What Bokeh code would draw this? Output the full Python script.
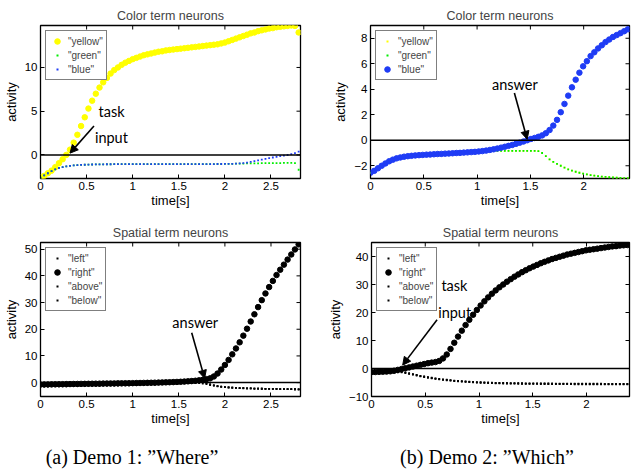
import numpy as np
from bokeh.plotting import figure
from bokeh.models import (Span, Label, Arrow, NormalHead, FixedTicker, Range1d, Div)
from bokeh.layouts import column, row
from bokeh.embed import file_html
from bokeh.resources import INLINE

# ---------------- data ----------------
t_a = np.round(np.arange(71) * 0.04, 3)    # demo 1 : 0 .. 2.8 s
t_b = np.round(np.arange(70) * 0.035, 3)   # demo 2 : 0 .. 2.415 s

yellow_a = [-2.6, -2.4, -2.1, -1.8, -1.4, -0.95, -0.5, 0.0, 0.6, 1.4,
            2.3, 3.3, 4.3, 5.3, 6.2, 7.0, 7.7, 8.3, 8.8, 9.3,
            9.7, 10.0, 10.3, 10.55, 10.75, 10.95, 11.1, 11.25, 11.4, 11.5,
            11.6, 11.7, 11.8, 11.85, 11.95, 12.0, 12.05, 12.1, 12.15, 12.2,
            12.25, 12.3, 12.35, 12.4, 12.45, 12.5, 12.55, 12.6, 12.65, 12.75,
            12.85, 13.0, 13.15, 13.3, 13.45, 13.6, 13.75, 13.9, 14.0, 14.15,
            14.25, 14.35, 14.45, 14.5, 14.6, 14.65, 14.7, 14.75, 14.8, 14.75,
            14.0]
green_a = [-2.6, -2.35, -2.1, -1.85, -1.65, -1.5, -1.4, -1.32, -1.26, -1.21,
           -1.18, -1.15, -1.13, -1.11, -1.1, -1.09, -1.08, -1.08, -1.07, -1.07,
           -1.06, -1.06, -1.06, -1.05, -1.05, -1.05, -1.05, -1.05, -1.05, -1.05,
           -1.05, -1.05, -1.05, -1.05, -1.05, -1.05, -1.05, -1.05, -1.05, -1.05,
           -1.05, -1.05, -1.05, -1.05, -1.05, -1.05, -1.05, -1.05, -1.04, -1.04,
           -1.03, -1.03, -1.02, -1.01, -1.0, -0.99, -0.98, -0.97, -0.96, -0.96,
           -0.95, -0.95, -0.94, -0.94, -0.93, -0.93, -0.92, -0.92, -0.92, -0.93,
           -1.7]
blue_a = [-2.6, -2.35, -2.1, -1.85, -1.65, -1.5, -1.4, -1.32, -1.26, -1.21,
          -1.18, -1.15, -1.13, -1.11, -1.1, -1.09, -1.08, -1.08, -1.07, -1.07,
          -1.06, -1.06, -1.06, -1.05, -1.05, -1.05, -1.05, -1.05, -1.05, -1.05,
          -1.05, -1.05, -1.05, -1.05, -1.05, -1.05, -1.05, -1.05, -1.05, -1.05,
          -1.05, -1.05, -1.05, -1.05, -1.05, -1.05, -1.05, -1.05, -1.04, -1.04,
          -1.03, -1.03, -1.02, -1.0, -0.98, -0.94, -0.88, -0.8, -0.72, -0.63,
          -0.55, -0.46, -0.38, -0.3, -0.22, -0.15, -0.08, -0.01, 0.08, 0.2,
          0.37]

yellow_b = [-2.55, -2.4, -2.2, -2.0, -1.82, -1.65, -1.52, -1.42, -1.35, -1.29,
            -1.25, -1.22, -1.19, -1.17, -1.15, -1.13, -1.12, -1.1, -1.08, -1.07,
            -1.05, -1.04, -1.02, -1.0, -0.99, -0.97, -0.95, -0.93, -0.91, -0.88,
            -0.86, -0.85, -0.85, -0.84, -0.84, -0.84, -0.84, -0.84, -0.84, -0.84,
            -0.84, -0.84, -0.84, -0.84, -0.84, -0.85, -1.0, -1.25, -1.5, -1.7,
            -1.85, -2.0, -2.15, -2.28, -2.38, -2.47, -2.55, -2.62, -2.68, -2.73,
            -2.78, -2.82, -2.85, -2.88, -2.9, -2.92, -2.94, -2.96, -2.97, -2.98]
green_b = [-2.55, -2.4, -2.2, -2.0, -1.82, -1.65, -1.52, -1.42, -1.35, -1.29,
           -1.25, -1.22, -1.19, -1.17, -1.15, -1.13, -1.12, -1.1, -1.08, -1.07,
           -1.05, -1.04, -1.02, -1.0, -0.99, -0.97, -0.95, -0.93, -0.91, -0.88,
           -0.86, -0.85, -0.85, -0.84, -0.84, -0.84, -0.84, -0.84, -0.84, -0.84,
           -0.84, -0.84, -0.84, -0.84, -0.84, -0.85, -1.0, -1.25, -1.5, -1.7,
           -1.85, -2.0, -2.15, -2.28, -2.38, -2.47, -2.55, -2.62, -2.68, -2.73,
           -2.78, -2.82, -2.85, -2.88, -2.9, -2.92, -2.94, -2.96, -2.97, -2.98]
blue_b = [-2.55, -2.4, -2.2, -2.0, -1.82, -1.65, -1.52, -1.42, -1.35, -1.29,
          -1.25, -1.22, -1.19, -1.17, -1.15, -1.13, -1.12, -1.1, -1.08, -1.07,
          -1.05, -1.04, -1.02, -1.0, -0.99, -0.97, -0.95, -0.93, -0.91, -0.88,
          -0.85, -0.81, -0.76, -0.71, -0.65, -0.58, -0.51, -0.44, -0.37, -0.28,
          -0.19, -0.1, 0.0, 0.1, 0.18, 0.27, 0.38, 0.55, 0.8, 1.15,
          1.6, 2.2, 2.85, 3.5, 4.15, 4.75, 5.3, 5.8, 6.2, 6.6,
          6.9, 7.2, 7.45, 7.7, 7.9, 8.1, 8.25, 8.4, 8.55, 8.7]

left_a = [-0.9, -0.88, -0.86, -0.84, -0.82, -0.8, -0.78, -0.76, -0.74, -0.72,
          -0.7, -0.68, -0.66, -0.64, -0.62, -0.6, -0.58, -0.56, -0.54, -0.52,
          -0.5, -0.47, -0.44, -0.41, -0.38, -0.35, -0.31, -0.27, -0.23, -0.19,
          -0.15, -0.1, -0.05, 0.0, 0.06, 0.12, 0.18, 0.24, 0.3, 0.35,
          0.4, 0.45, 0.45, 0.35, 0.1, -0.3, -0.7, -1.0, -1.3, -1.5,
          -1.65, -1.78, -1.88, -1.96, -2.03, -2.09, -2.14, -2.18, -2.22, -2.26,
          -2.29, -2.32, -2.34, -2.36, -2.38, -2.4, -2.42, -2.44, -2.46, -2.48,
          -2.5]
right_a = [-0.7, -0.68, -0.66, -0.64, -0.62, -0.6, -0.58, -0.56, -0.54, -0.52,
           -0.5, -0.48, -0.46, -0.44, -0.42, -0.4, -0.38, -0.36, -0.34, -0.32,
           -0.3, -0.28, -0.26, -0.24, -0.22, -0.2, -0.17, -0.14, -0.11, -0.08,
           -0.05, -0.02, 0.02, 0.06, 0.1, 0.15, 0.2, 0.26, 0.32, 0.4,
           0.48, 0.58, 0.7, 0.85, 1.05, 1.3, 1.6, 2.3, 3.4, 4.9,
           6.6, 8.5, 10.6, 12.8, 15.1, 17.6, 20.2, 22.9, 25.6, 28.3,
           30.9, 33.4, 35.8, 38.1, 40.3, 42.3, 44.2, 46.1, 48.0, 49.9,
           51.8]
above_a = [-1.5, -1.48, -1.46, -1.44, -1.42, -1.4, -1.38, -1.36, -1.34, -1.32,
           -1.3, -1.28, -1.26, -1.24, -1.22, -1.2, -1.18, -1.16, -1.14, -1.12,
           -1.1, -1.07, -1.04, -1.01, -0.98, -0.95, -0.91, -0.87, -0.83, -0.79,
           -0.75, -0.7, -0.65, -0.6, -0.54, -0.48, -0.42, -0.36, -0.3, -0.25,
           -0.2, -0.15, -0.15, -0.2, -0.35, -0.6, -0.9, -1.15, -1.4, -1.58,
           -1.72, -1.83, -1.92, -1.99, -2.05, -2.1, -2.15, -2.19, -2.23, -2.27,
           -2.3, -2.33, -2.35, -2.37, -2.39, -2.41, -2.43, -2.45, -2.47, -2.49,
           -2.51]
below_a = [-1.2, -1.18, -1.16, -1.14, -1.12, -1.1, -1.08, -1.06, -1.04, -1.02,
           -1.0, -0.98, -0.96, -0.94, -0.92, -0.9, -0.88, -0.86, -0.84, -0.82,
           -0.8, -0.77, -0.74, -0.71, -0.68, -0.65, -0.61, -0.57, -0.53, -0.49,
           -0.45, -0.4, -0.35, -0.3, -0.24, -0.18, -0.12, -0.06, 0.0, 0.05,
           0.2, 0.3, 0.35, 0.3, 0.1, -0.3, -0.7, -1.0, -1.3, -1.5,
           -1.65, -1.78, -1.88, -1.96, -2.03, -2.09, -2.14, -2.18, -2.22, -2.26,
           -2.29, -2.32, -2.34, -2.36, -2.38, -2.4, -2.42, -2.44, -2.46, -2.48,
           -2.5]

left_b = [-1.4, -1.4, -1.4, -1.4, -1.38, -1.37, -1.36, -1.35, -1.4, -1.6,
          -1.9, -2.2, -2.5, -2.8, -3.05, -3.3, -3.5, -3.7, -3.9, -4.05,
          -4.2, -4.35, -4.5, -4.6, -4.7, -4.8, -4.9, -4.98, -5.05, -5.1,
          -5.15, -5.2, -5.25, -5.3, -5.32, -5.35, -5.38, -5.4, -5.42, -5.44,
          -5.46, -5.48, -5.5, -5.51, -5.52, -5.53, -5.54, -5.55, -5.56, -5.57,
          -5.58, -5.59, -5.6, -5.61, -5.62, -5.62, -5.63, -5.63, -5.64, -5.64,
          -5.65, -5.65, -5.66, -5.66, -5.67, -5.67, -5.68, -5.68, -5.69, -5.7]
right_b = [-1.3, -1.25, -1.2, -1.15, -1.1, -1.0, -0.8, -0.5, -0.2, 0.1,
           0.4, 0.7, 1.0, 1.3, 1.6, 1.9, 2.1, 2.3, 2.7, 3.6,
           5.0, 7.0, 9.2, 11.4, 13.5, 15.5, 17.4, 19.2, 20.9, 22.5,
           24.0, 25.4, 26.7, 27.9, 29.0, 30.0, 31.0, 31.9, 32.8, 33.6,
           34.4, 35.1, 35.8, 36.4, 37.0, 37.6, 38.1, 38.6, 39.1, 39.5,
           39.9, 40.3, 40.7, 41.0, 41.3, 41.6, 41.9, 42.2, 42.4, 42.6,
           42.8, 43.0, 43.2, 43.4, 43.6, 43.7, 43.9, 44.0, 44.1, 44.2]
above_b = [-1.2, -1.2, -1.2, -1.2, -1.18, -1.17, -1.16, -1.15, -1.2, -1.4,
           -1.7, -2.0, -2.3, -2.6, -2.85, -3.1, -3.3, -3.5, -3.7, -3.85,
           -4.0, -4.15, -4.3, -4.4, -4.5, -4.6, -4.7, -4.78, -4.85, -4.9,
           -4.95, -5.0, -5.05, -5.1, -5.12, -5.15, -5.18, -5.2, -5.22, -5.24,
           -5.26, -5.28, -5.3, -5.31, -5.32, -5.33, -5.34, -5.35, -5.36, -5.37,
           -5.38, -5.39, -5.4, -5.41, -5.42, -5.42, -5.43, -5.43, -5.44, -5.44,
           -5.45, -5.45, -5.46, -5.46, -5.47, -5.47, -5.48, -5.48, -5.49, -5.5]
below_b = [-1.3, -1.3, -1.3, -1.3, -1.28, -1.27, -1.26, -1.25, -1.3, -1.5,
           -1.8, -2.1, -2.4, -2.7, -2.95, -3.2, -3.4, -3.6, -3.8, -3.95,
           -4.1, -4.25, -4.4, -4.5, -4.6, -4.7, -4.8, -4.88, -4.95, -5.0,
           -5.05, -5.1, -5.15, -5.2, -5.22, -5.25, -5.28, -5.3, -5.32, -5.34,
           -5.36, -5.38, -5.4, -5.41, -5.42, -5.43, -5.44, -5.45, -5.46, -5.47,
           -5.48, -5.49, -5.5, -5.51, -5.52, -5.52, -5.53, -5.53, -5.54, -5.54,
           -5.55, -5.55, -5.56, -5.56, -5.57, -5.57, -5.58, -5.58, -5.59, -5.6]

xticks_a = [0, 0.5, 1, 1.5, 2, 2.5]
xticks_b = [0, 0.5, 1, 1.5, 2]
xtick_labels = {0: "0", 0.5: "0.5", 1: "1", 1.5: "1.5", 2: "2", 2.5: "2.5"}
yticks_1 = [0, 5, 10]
yticks_2 = [-2, 0, 2, 4, 6, 8]
yticks_3 = [0, 10, 20, 30, 40, 50]
yticks_4 = [-10, 0, 10, 20, 30, 40]

color_names = ['"yellow"', '"green"', '"blue"']
spatial_names = ['"left"', '"right"', '"above"', '"below"']
YELLOW, GREEN, BLUE, BLACK = "#ffff00", "#00ee00", "#1f3cf5", "black"

SANS = "Liberation Sans"


def make_panel(title, width, height, borders, xr, yr, xticks, yticks):
    bl, br, bt, bb = borders
    p = figure(width=width, height=height, output_backend="svg", toolbar_location=None,
               x_range=Range1d(*xr), y_range=Range1d(*yr), title=title,
               min_border_left=bl, min_border_right=br,
               min_border_top=bt, min_border_bottom=bb)
    p.title.align = "center"
    p.title.text_font = SANS
    p.title.text_font_size = "12.5px"
    p.title.text_font_style = "normal"
    p.title.standoff = 5
    p.grid.visible = False
    p.outline_line_color = "black"
    p.outline_line_width = 1.3
    p.outline_line_alpha = 1.0
    p.background_fill_color = "white"
    p.border_fill_color = "white"
    for ax in (p.xaxis[0], p.yaxis[0]):
        ax.axis_line_color = None
        ax.major_tick_in = 4
        ax.major_tick_out = 0
        ax.major_tick_line_color = "black"
        ax.minor_tick_line_color = None
        ax.major_label_text_font = SANS
        ax.major_label_text_font_size = "11.5px"
        ax.major_label_text_color = "black"
        ax.axis_label_text_font = SANS
        ax.axis_label_text_font_size = "13px"
        ax.axis_label_text_font_style = "normal"
        ax.axis_label_text_color = "black"
    p.xaxis.ticker = FixedTicker(ticks=xticks)
    p.xaxis.major_label_overrides = {k: v for k, v in xtick_labels.items() if k in xticks}
    p.yaxis.ticker = FixedTicker(ticks=yticks)
    p.xaxis.axis_label = "time[s]"
    p.yaxis.axis_label = "activity"
    p.xaxis.major_label_standoff = 3
    p.xaxis.axis_label_standoff = 0
    p.yaxis.major_label_standoff = 3
    p.yaxis.axis_label_standoff = 3
    # mirrored ticks on top / right edges of the box (4 px long, screen units)
    p.ray(x=xticks, y=[yr[1]] * len(xticks), length=4, length_units="screen",
          angle=-np.pi / 2, line_color="black", line_width=1)
    p.ray(x=[xr[1]] * len(yticks), y=yticks, length=4, length_units="screen",
          angle=np.pi, line_color="black", line_width=1)
    p.add_layout(Span(location=0, dimension="width", line_color="black", line_width=1.5))
    return p


def style_legend(p):
    lg = p.legend[0]
    lg.location = "top_left"
    lg.margin = 5
    lg.padding = 3
    lg.spacing = 0
    lg.border_line_color = "black"
    lg.border_line_width = 1.5
    lg.background_fill_color = "white"
    lg.background_fill_alpha = 1.0
    lg.label_text_font = SANS
    lg.label_text_font_size = "10px"
    lg.label_height = 14
    lg.glyph_height = 14
    lg.glyph_width = 16
    lg.label_standoff = 3
    lg.label_text_baseline = "middle"
    lg.inactive_fill_alpha = 0.0


def dots(p, x, y, color, big, label):
    if big:
        p.scatter(x, y, marker="circle", size=5.5, fill_color=color, line_color=color,
                  legend_label=label)
    else:
        p.scatter(x, y, marker="square", size=1.8, fill_color=color, line_color=None)
        # hidden twin renderer that only supplies a small-dot legend glyph
        r = p.line(x, y, line_color=color, line_width=2, line_dash="0 7 2 100",
                   line_cap="butt", legend_label=label)
        r.visible = False


def annotate(p, texts, arrow):
    for (txt, x, y) in texts:
        p.add_layout(Label(x=x, y=y, text=txt, text_font="Lato", text_font_size="14.5px",
                           text_baseline="middle", text_align="left", text_color="black"))
    x0, y0, x1, y1 = arrow
    p.add_layout(Arrow(x_start=x0, y_start=y0, x_end=x1, y_end=y1, line_width=1.6,
                       line_color="black",
                       end=NormalHead(size=8, fill_color="black", line_color="black")))


p1 = make_panel("Color term neurons", 312, 210, (34, 12, 25, 30),
                (0, 2.82), (-2.7, 14.8), xticks_a, yticks_1)
dots(p1, t_a, yellow_a, YELLOW, True, color_names[0])
dots(p1, t_a, green_a, GREEN, False, color_names[1])
dots(p1, t_a, blue_a, BLUE, False, color_names[2])
style_legend(p1)
annotate(p1, [("task", 0.63, 5.0), ("input", 0.59, 2.0)], (0.58, 3.3, 0.32, 0.2))

p2 = make_panel("Color term neurons", 320, 210, (58, 3, 25, 30),
                (0, 2.43), (-3.0, 9.0), xticks_b, yticks_2)
dots(p2, t_b, yellow_b, YELLOW, False, color_names[0])
dots(p2, t_b, green_b, GREEN, False, color_names[1])
dots(p2, t_b, blue_b, BLUE, True, color_names[2])
style_legend(p2)
annotate(p2, [("answer", 1.14, 4.4)], (1.35, 3.7, 1.47, 0.08))

p3 = make_panel("Spatial term neurons", 312, 219, (34, 12, 32, 33),
                (0, 2.82), (-5.2, 52.5), xticks_a, yticks_3)
dots(p3, t_a, left_a, BLACK, False, spatial_names[0])
dots(p3, t_a, right_a, BLACK, True, spatial_names[1])
dots(p3, t_a, above_a, BLACK, False, spatial_names[2])
dots(p3, t_a, below_a, BLACK, False, spatial_names[3])
style_legend(p3)
annotate(p3, [("answer", 1.43, 22.5)], (1.64, 18.7, 1.78, 1.6))

p4 = make_panel("Spatial term neurons", 320, 219, (59, 3, 32, 33),
                (0, 2.40), (-10, 45), xticks_b, yticks_4)
dots(p4, t_b, left_b, BLACK, False, spatial_names[0])
dots(p4, t_b, right_b, BLACK, True, spatial_names[1])
dots(p4, t_b, above_b, BLACK, False, spatial_names[2])
dots(p4, t_b, below_b, BLACK, False, spatial_names[3])
style_legend(p4)
annotate(p4, [("task", 0.65, 29.6), ("input", 0.62, 19.9)], (0.61, 17.4, 0.29, 1.2))

captions = ["(a) Demo 1: \u201dWhere\u201d", "(b) Demo 2: \u201dWhich\u201d"]
cap_html = (
    '<div style="position:relative;width:632px;height:31px;'
    'font-family:\'Liberation Serif\',serif;font-size:20px;line-height:20px;color:black;">'
    '<span style="position:absolute;left:127px;top:13px;transform:translateX(-50%);'
    'white-space:nowrap;">' + captions[0] + '</span>'
    '<span style="position:absolute;left:482px;top:13px;transform:translateX(-50%);'
    'white-space:nowrap;">' + captions[1] + '</span></div>'
)
cap = Div(text=cap_html, width=632, height=31)

layout = column(row(p1, p2), row(p3, p4), cap)

with open("out.html", "w") as f:
    f.write(file_html(layout, INLINE))
